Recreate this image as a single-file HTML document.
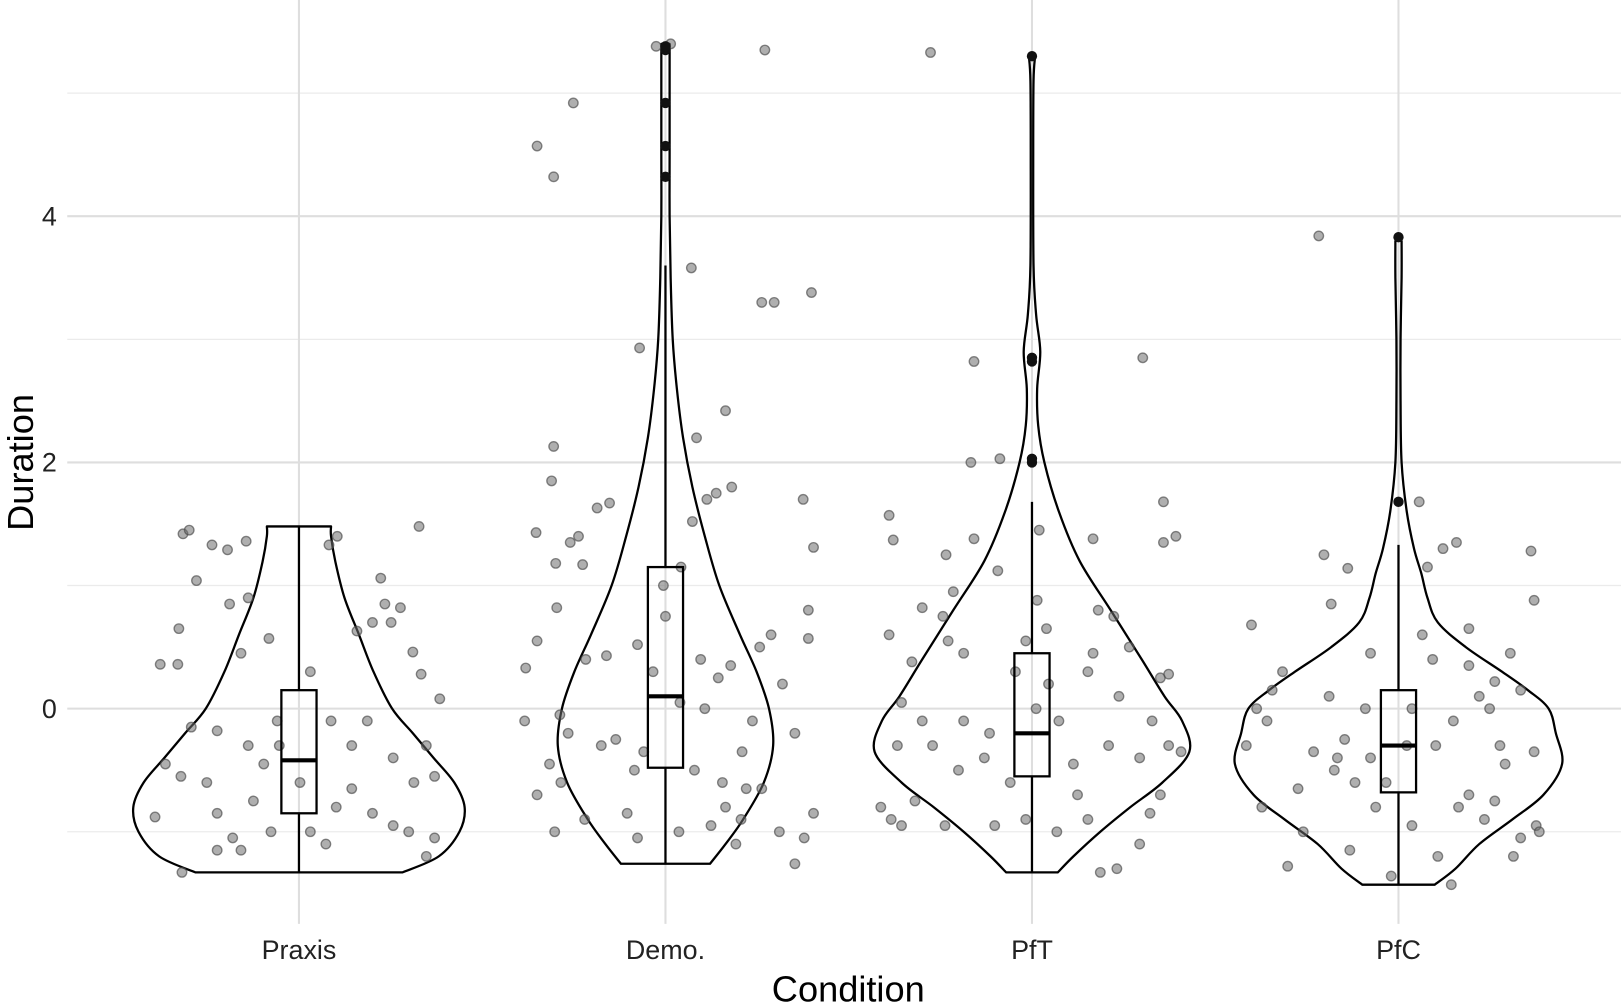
<!DOCTYPE html>
<html><head><meta charset="utf-8"><style>
html,body{margin:0;padding:0;background:#fff;}
svg{display:block;font-family:"Liberation Sans","DejaVu Sans",sans-serif;}
</style></head><body>
<svg id="chart" width="1621" height="1007" viewBox="0 0 1567 973.4" preserveAspectRatio="none" xmlns="http://www.w3.org/2000/svg">
<g id="grid"></g>
<g id="violins"></g>
<g id="points"></g>
<g id="boxes"></g>
<g id="axes"></g>
<text x="820" y="968" font-size="35" text-anchor="middle" fill="#000">Condition</text>
<text transform="translate(32,447) rotate(-90)" font-size="35" text-anchor="middle" fill="#000">Duration</text>
</svg>
<script>
const categories = ["Praxis","Demo.","PfT","PfC"];
const yTicks = [0,2,4];
const yMinor = [-1,1,3,5];
const violinPraxis = [[-1.33,100],[-1.2,135],[-1.0,155],[-0.8,160],[-0.6,150],[-0.4,130],[-0.2,110],[0,90],[0.3,72],[0.6,58],[0.9,44],[1.2,35],[1.4,31],[1.48,31]];
const violinDemo = [[-1.26,43],[-1.1,58],[-0.9,75],[-0.6,95],[-0.3,104],[0,100],[0.3,88],[0.6,72],[1.0,52],[1.4,38],[1.8,26],[2.2,17],[2.6,11],[3.0,7],[3.5,5],[4.0,4],[4.5,4],[5.0,4],[5.4,4]];
const violinPfT = [[-1.33,25],[-1.2,40],[-1.0,66],[-0.8,95],[-0.6,126],[-0.35,152],[-0.1,145],[0.1,128],[0.4,106],[0.8,76],[1.2,46],[1.6,26],[2.0,12],[2.3,6],[2.6,5],[2.9,8],[3.2,4],[3.6,1.5],[4.5,1.2],[5.1,1.5],[5.3,3]];
const violinPfC = [[-1.43,35],[-1.3,55],[-1.1,78],[-0.9,110],[-0.7,140],[-0.45,158],[-0.2,152],[0,145],[0.15,125],[0.3,100],[0.5,65],[0.7,38],[0.9,28],[1.1,22],[1.3,15],[1.6,8],[2.0,3],[2.5,2],[3.0,2],[3.5,3],[3.8,3]];
const violinWidthUnit = 354;
const boxPraxis = [-1.33,-0.85,-0.42,0.15,1.48];
const boxDemo = [-1.26,-0.48,0.1,1.15,3.6];
const boxPfT = [-1.33,-0.55,-0.2,0.45,1.68];
const boxPfC = [-1.43,-0.68,-0.3,0.15,1.33];
const outliersPraxis = [];
const outliersDemo = [4.32,4.57,4.92,5.35,5.38];
const outliersPfT = [2.0,2.03,2.82,2.85,5.3];
const outliersPfC = [1.68,3.83];
const ptsPraxis = [[-139,-0.88],[-113,-1.33],[-134,0.36],[-117,0.36],[-116,0.65],[-112,1.42],[-106,1.45],[-99,1.04],[-84,1.33],[-69,1.29],[-51,1.36],[-67,0.85],[-49,0.9],[-56,0.45],[-79,-0.18],[-129,-0.45],[-114,-0.55],[-104,-0.15],[-89,-0.6],[-79,-0.85],[-64,-1.05],[-79,-1.15],[-56,-1.15],[-44,-0.75],[-29,0.57],[-21,-0.1],[11,0.3],[29,1.33],[37,1.4],[31,-0.1],[51,-0.3],[56,0.63],[71,0.7],[89,0.7],[79,1.06],[83,0.85],[98,0.82],[110,0.46],[116,1.48],[118,0.28],[123,-0.3],[131,-0.55],[136,0.08],[123,-1.2],[106,-1.0],[91,-0.95],[71,-0.85],[51,-0.65],[36,-0.8],[11,-1.0],[1,-0.6],[-19,-0.3],[-34,-0.45],[-49,-0.3],[91,-0.4],[111,-0.6],[131,-1.05],[26,-1.1],[-27,-1.0],[66,-0.1]];
const ptsDemo = [[-136,-0.1],[-135,0.33],[-124,0.55],[-124,-0.7],[-107,-1.0],[-125,1.43],[-124,4.57],[-108,4.32],[-89,4.92],[-108,2.13],[-110,1.85],[-106,1.18],[-92,1.35],[-84,1.4],[-80,1.17],[-66,1.63],[-54,1.67],[-105,0.82],[-102,-0.05],[-101,-0.6],[-94,-0.2],[-112,-0.45],[-77,0.4],[-57,0.43],[-48,-0.25],[-27,0.52],[-25,2.93],[-37,-0.85],[-30,-0.5],[-21,-0.35],[-12,0.3],[-2,1.0],[0,0.75],[15,1.15],[14,0.05],[25,3.58],[26,1.52],[30,2.2],[34,0.4],[40,1.7],[49,1.75],[58,2.42],[64,1.8],[63,0.35],[55,-0.6],[51,0.25],[38,0.0],[44,-0.95],[58,-0.8],[74,-0.35],[84,-0.1],[91,0.5],[96,5.35],[93,3.3],[105,3.3],[102,0.6],[113,0.2],[125,-0.2],[133,1.7],[138,0.8],[141,3.38],[143,1.31],[138,0.57],[143,-0.85],[125,-1.26],[134,-1.05],[110,-1.0],[93,-0.65],[78,-0.65],[13,-1.0],[28,-0.5],[-27,-1.05],[-62,-0.3],[-78,-0.9],[73,-0.9],[68,-1.1],[-9,5.38],[5,5.4]];
const ptsPfT = [[-138,1.57],[-134,1.37],[-138,0.6],[-136,-0.9],[-126,-0.95],[-113,-0.75],[-130,-0.3],[-146,-0.8],[-126,0.05],[-116,0.38],[-106,0.82],[-98,5.33],[-84,-0.95],[-86,0.75],[-83,1.25],[-81,0.55],[-76,0.95],[-56,2.82],[-59,2.0],[-56,1.38],[-66,0.45],[-66,-0.1],[-71,-0.5],[-46,-0.4],[-41,-0.2],[-31,2.03],[-33,1.12],[-36,-0.95],[-21,-0.6],[-6,-0.9],[-6,0.55],[7,1.45],[14,0.65],[5,0.88],[16,0.2],[26,-0.1],[40,-0.45],[44,-0.7],[54,-0.9],[59,0.45],[59,1.38],[64,0.8],[79,0.75],[94,0.5],[84,0.1],[74,-0.3],[66,-1.33],[82,-1.3],[104,-0.4],[107,2.85],[116,-0.1],[124,0.25],[127,1.68],[127,1.35],[139,1.4],[132,0.28],[144,-0.35],[124,-0.7],[114,-0.85],[132,-0.3],[104,-1.1],[24,-1.0],[-16,0.3],[-96,-0.3],[-106,-0.1],[4,0.0],[54,0.3]];
const ptsPfC = [[-142,0.68],[-137,0.0],[-147,-0.3],[-132,-0.8],[-127,-0.1],[-112,0.3],[-107,-1.28],[-97,-0.65],[-92,-1.0],[-77,3.84],[-72,1.25],[-67,0.1],[-65,0.85],[-62,-0.5],[-59,-0.4],[-52,-0.25],[-49,1.14],[-47,-1.15],[-42,-0.6],[-32,0.0],[-27,0.45],[-27,-0.4],[-12,-0.6],[-7,-1.36],[8,-0.3],[13,0.0],[20,1.68],[23,0.6],[28,1.15],[33,0.4],[36,-0.3],[43,1.3],[53,-0.1],[56,1.35],[51,-1.43],[68,0.65],[68,-0.7],[78,0.1],[83,-0.9],[88,0.0],[93,0.22],[103,-0.45],[108,0.45],[111,-1.2],[118,0.15],[128,1.28],[131,0.88],[131,-0.35],[133,-0.95],[136,-1.0],[118,-1.05],[93,-0.75],[58,-0.8],[38,-1.2],[13,-0.95],[-22,-0.8],[-82,-0.35],[-122,0.15],[68,0.35],[98,-0.3]];

const violins=[violinPraxis,violinDemo,violinPfT,violinPfC];
const boxes=[boxPraxis,boxDemo,boxPfT,boxPfC];
const outliers=[outliersPraxis,outliersDemo,outliersPfT,outliersPfC];
const pts=[ptsPraxis,ptsDemo,ptsPfT,ptsPfC];

const PL=65, PR=1567, X0=289, BAND=354.3;
function xScale(i){return X0+i*BAND;}
function yScale(v){return 685-v*119;}
const NS="http://www.w3.org/2000/svg";
function mk(tag,attrs,parent){const e=document.createElementNS(NS,tag);for(const k in attrs)e.setAttribute(k,attrs[k]);parent.appendChild(e);return e;}
function smooth(p){
  let d='';
  for(let i=0;i<p.length-1;i++){
    const p0=p[Math.max(0,i-1)],p1=p[i],p2=p[i+1],p3=p[Math.min(p.length-1,i+2)];
    const c1x=p1[0]+(p2[0]-p0[0])/6,c1y=p1[1]+(p2[1]-p0[1])/6;
    const c2x=p2[0]-(p3[0]-p1[0])/6,c2y=p2[1]-(p3[1]-p1[1])/6;
    d+='C'+c1x+','+c1y+' '+c2x+','+c2y+' '+p2[0]+','+p2[1];
  }
  return d;
}
const grid=document.getElementById('grid'),axes=document.getElementById('axes');
yMinor.forEach(v=>{
  const l=mk('line',{x1:PL,x2:PR,y1:yScale(v),y2:yScale(v),stroke:'#ebebeb','stroke-width':1.2},grid);
  
  
});
yTicks.forEach(v=>{
  const l=mk('line',{x1:PL,x2:PR,y1:yScale(v),y2:yScale(v),stroke:'#dedede','stroke-width':2},grid);
  
  
  const t=mk('text',{x:55,y:yScale(v)+9,'font-size':26,'text-anchor':'end',fill:'#222'},axes);
  t.textContent=v;
  
  
});
categories.forEach((c,i)=>{
  const l=mk('line',{x1:xScale(i),x2:xScale(i),y1:0,y2:893,stroke:'#dedede','stroke-width':2},grid);
  
  
  const t=mk('text',{x:xScale(i),y:927,'font-size':26,'text-anchor':'middle',fill:'#222'},axes);
  t.textContent=c;
  
  
});
const vg=document.getElementById('violins');
violins.forEach((prof,i)=>{
  const cx=xScale(i),k=BAND/violinWidthUnit;
  const left=prof.map(p=>[cx-p[1]*k,yScale(p[0])]);
  const right=prof.map(p=>[cx+p[1]*k,yScale(p[0])]).reverse();
  let d='M'+left[0][0]+','+left[0][1]+smooth(left)+'L'+right[0][0]+','+right[0][1]+smooth(right)+'Z';
  const e=mk('path',{d:d,fill:'none',stroke:'#000','stroke-width':2.2,'stroke-linejoin':'round'},vg);
  
  
});
const pg=document.getElementById('points');
pts.forEach((arr,i)=>{
  arr.forEach(p=>{
    const e=mk('circle',{cx:xScale(i)+p[0]/violinWidthUnit*BAND,cy:yScale(p[1]),r:4.6,fill:'rgba(110,110,110,0.55)',stroke:'rgba(70,70,70,0.65)','stroke-width':1.3},pg);
    
    
  });
});
const bg=document.getElementById('boxes');
boxes.forEach((b,i)=>{
  const cx=xScale(i),hw=17;
  const w1=mk('line',{x1:cx,x2:cx,y1:yScale(b[0]),y2:yScale(b[1]),stroke:'#000','stroke-width':2.2},bg);
  
  
  const w2=mk('line',{x1:cx,x2:cx,y1:yScale(b[3]),y2:yScale(b[4]),stroke:'#000','stroke-width':2.2},bg);
  
  
  const r=mk('rect',{x:cx-hw,y:yScale(b[3]),width:2*hw,height:yScale(b[1])-yScale(b[3]),fill:'none',stroke:'#000','stroke-width':2.2},bg);
  
  
  const m=mk('line',{x1:cx-hw,x2:cx+hw,y1:yScale(b[2]),y2:yScale(b[2]),stroke:'#000','stroke-width':4},bg);
  
  
  outliers[i].forEach(v=>{
    const o=mk('circle',{cx:cx,cy:yScale(v),r:5,fill:'#111'},bg);
    
    
  });
});
</script>
</body></html>
